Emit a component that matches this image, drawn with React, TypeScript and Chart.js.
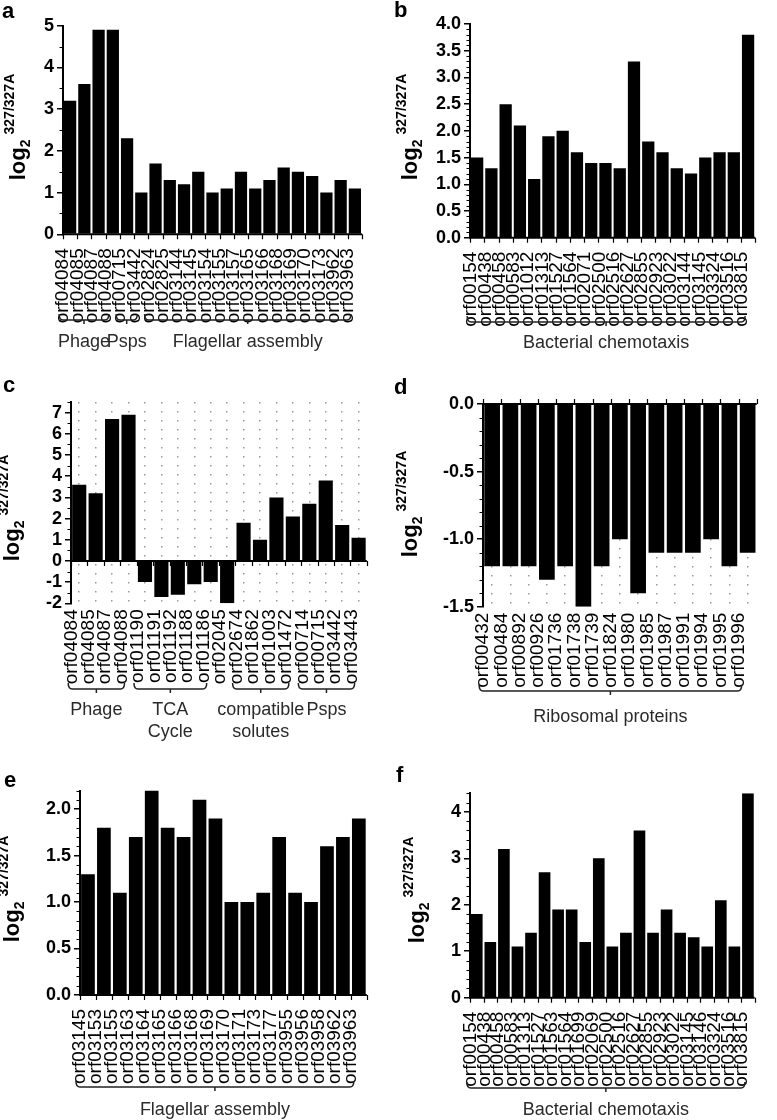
import React, { useEffect, useRef } from "react";
import { Chart, registerables } from "chart.js";
Chart.register(...registerables);

// ---------- data ----------
const aLabels = ["orf04084","orf04085","orf04087","orf04088","orf00715","orf03442","orf02824","orf02825","orf03144","orf03145","orf03154","orf03155","orf03157","orf03165","orf03166","orf03168","orf03169","orf03170","orf03173","orf03962","orf03963"];
const aValues = [3.2,3.6,4.9,4.9,2.3,1.0,1.7,1.3,1.2,1.5,1.0,1.1,1.5,1.1,1.3,1.6,1.5,1.4,1.0,1.3,1.1];
const aTicks = [0,1,2,3,4,5];

const bLabels = ["orf00154","orf00438","orf00458","orf00583","orf01012","orf01313","orf01527","orf01564","orf02071","orf02500","orf02516","orf02627","orf02855","orf02923","orf03022","orf03144","orf03145","orf03324","orf03516","orf03815"];
const bValues = [1.5,1.3,2.5,2.1,1.1,1.9,2.0,1.6,1.4,1.4,1.3,3.3,1.8,1.6,1.3,1.2,1.5,1.6,1.6,3.8];
const bTicks = [0,0.5,1,1.5,2,2.5,3,3.5,4];

const cLabels = ["orf04084","orf04085","orf04087","orf04088","orf01190","orf01191","orf01192","orf01188","orf01186","orf02045","orf02674","orf01862","orf01003","orf01472","orf00714","orf00715","orf03442","orf03443"];
const cValues = [3.6,3.2,6.7,6.9,-1.0,-1.7,-1.6,-1.1,-1.0,-2.0,1.8,1.0,3.0,2.1,2.7,3.8,1.7,1.1];
const cTicks = [-2,-1,0,1,2,3,4,5,6,7];

const dLabels = ["orf00432","orf00484","orf00892","orf00926","orf01736","orf01738","orf01739","orf01824","orf01980","orf01985","orf01987","orf01991","orf01994","orf01995","orf01996"];
const dValues = [-1.2,-1.2,-1.2,-1.3,-1.2,-1.5,-1.2,-1.0,-1.4,-1.1,-1.1,-1.1,-1.0,-1.2,-1.1];
const dTicks = [-1.5,-1,-0.5,0];

const eLabels = ["orf03145","orf03153","orf03155","orf03163","orf03164","orf03165","orf03166","orf03168","orf03169","orf03170","orf03171","orf03173","orf03177","orf03955","orf03956","orf03958","orf03962","orf03963"];
const eValues = [1.3,1.8,1.1,1.7,2.2,1.8,1.7,2.1,1.9,1.0,1.0,1.1,1.7,1.1,1.0,1.6,1.7,1.9];
const eTicks = [0,0.5,1,1.5,2];

const fLabels = ["orf00154","orf00438","orf00458","orf00583","orf01313","orf01527","orf01563","orf01564","orf01699","orf02069","orf02500","orf02516","orf02627","orf02855","orf02923","orf03022","orf03145","orf03146","orf03324","orf03516","orf03815"];
const fValues = [1.8,1.2,3.2,1.1,1.4,2.7,1.9,1.9,1.2,3.0,1.1,1.4,3.6,1.4,1.9,1.4,1.3,1.1,2.1,1.1,4.4];
const fTicks = [0,1,2,3,4];

const aGroups = [
  { text: ["Phage"], from: 0, to: 3 },
  { text: ["Psps"], from: 4, to: 5 },
  { text: ["Flagellar assembly"], from: 6, to: 20 },
];
const bGroups = [{ text: ["Bacterial chemotaxis"], from: 0, to: 19 }];
const cGroups = [
  { text: ["Phage"], from: 0, to: 3 },
  { text: ["TCA", "Cycle"], from: 4, to: 8 },
  { text: ["compatible", "solutes"], from: 10, to: 13 },
  { text: ["Psps"], from: 14, to: 17 },
];
const dGroups = [{ text: ["Ribosomal proteins"], from: 0, to: 14 }];
const eGroups = [{ text: ["Flagellar assembly"], from: 0, to: 17 }];
const fGroups = [{ text: ["Bacterial chemotaxis"], from: 0, to: 20 }];

// ---------- layout ----------
type Spec = any;
const panels: Spec[] = [
  { letter: "a", labels: aLabels, values: aValues, ticks: aTicks, groups: aGroups,
    box: { left: 0, top: 0, width: 388, height: 370 }, plot: { x0: 63, x1: 362, y0: 25.7, y1: 234.3 },
    yMin: 0, yMax: 5, dec: 0, minor: 0.5, labelOffset: -7, dotted: false, zeroDir: 1,
    bracketY: 320, textY: 342, title: { cx: 19, cy: 127 }, letterPos: { x: 2, y: 0 } },
  { letter: "b", labels: bLabels, values: bValues, ticks: bTicks, groups: bGroups,
    box: { left: 388, top: 0, width: 389, height: 370 }, plot: { x0: 470, x1: 772, y0: 24, y1: 237.7 },
    yMin: 0, yMax: 4, dec: 1, minor: 0.1, labelOffset: -6, dotted: false, zeroDir: 1,
    bracketY: 322, textY: 343, title: { cx: 411, cy: 127 }, letterPos: { x: 394, y: -1 } },
  { letter: "c", labels: cLabels, values: cValues, ticks: cTicks, groups: cGroups,
    box: { left: 0, top: 370, width: 388, height: 380 }, plot: { x0: 71, x1: 367, y0: 402.1, y1: 603.3 },
    yMin: -2, yMax: 7.5, dec: 0, minor: 0.5, labelOffset: -7, dotted: true, zeroDir: 1,
    bracketY: 689, textY: 710, title: { cx: 13, cy: 508 }, letterPos: { x: 3, y: 374 } },
  { letter: "d", labels: dLabels, values: dValues, ticks: dTicks, groups: dGroups,
    box: { left: 388, top: 370, width: 389, height: 380 }, plot: { x0: 483, x1: 760, y0: 404, y1: 606.7 },
    yMin: -1.5, yMax: 0, dec: 1, minor: 0.1, labelOffset: -9, dotted: true, zeroDir: -1,
    bracketY: 691, textY: 717, title: { cx: 411, cy: 504 }, letterPos: { x: 394, y: 376 } },
  { letter: "e", labels: eLabels, values: eValues, ticks: eTicks, groups: eGroups,
    box: { left: 0, top: 750, width: 388, height: 370 }, plot: { x0: 80, x1: 375, y0: 790.5, y1: 995 },
    yMin: 0, yMax: 2.2, dec: 1, minor: 0.1, labelOffset: -8, dotted: false, zeroDir: 1,
    bracketY: 1087, textY: 1110, title: { cx: 13, cy: 889 }, letterPos: { x: 4, y: 769 } },
  { letter: "f", labels: fLabels, values: fValues, ticks: fTicks, groups: fGroups,
    box: { left: 388, top: 750, width: 389, height: 370 }, plot: { x0: 470, x1: 765, y0: 793.3, y1: 997.7 },
    yMin: 0, yMax: 4.4, dec: 0, minor: 0.2, labelOffset: -6, dotted: false, zeroDir: 1,
    bracketY: 1088, textY: 1110, title: { cx: 418, cy: 890 }, letterPos: { x: 396, y: 764 } },
];

const SANS = '"Liberation Sans", Arial, sans-serif';

function decorPlugin(s: Spec) {
  return {
    id: "decor" + s.letter,
    afterDatasetsDraw(chart: any) {
      const { ctx, chartArea, scales } = chart;
      const x = scales.x, y = scales.y;
      const n = s.labels.length;
      const p0 = x.getPixelForValue(0);
      const step = x.getPixelForValue(1) - p0;
      const yz = y.getPixelForValue(0);
      ctx.save();
      // zero line with category ticks
      ctx.strokeStyle = "#000";
      ctx.lineWidth = 2;
      ctx.beginPath();
      ctx.moveTo(chartArea.left - 1, yz);
      ctx.lineTo(chartArea.right, yz);
      ctx.stroke();
      ctx.lineWidth = 1.2;
      ctx.beginPath();
      for (let i = 0; i <= n; i++) {
        const px = Math.round(p0 - step / 2 + i * step) + 0.5;
        ctx.moveTo(px, yz);
        ctx.lineTo(px, yz + s.zeroDir * 5);
      }
      ctx.stroke();
      // minor ticks on y axis
      ctx.lineWidth = 1;
      ctx.beginPath();
      const cnt = Math.round((s.yMax - s.yMin) / s.minor);
      for (let k = 0; k <= cnt; k++) {
        const v = s.yMin + k * s.minor;
        if (s.ticks.some((t: number) => Math.abs(t - v) < 1e-6)) continue;
        const py = Math.round(y.getPixelForValue(v)) + 0.5;
        ctx.moveTo(chartArea.left, py);
        ctx.lineTo(chartArea.left - 3.5, py);
      }
      ctx.stroke();
      // brackets + group labels
      const by = s.bracketY - s.box.top;
      const ty = s.textY - s.box.top;
      ctx.strokeStyle = "#222";
      ctx.lineWidth = 1.5;
      ctx.fillStyle = "#2a2a2a";
      ctx.font = "18px " + SANS;
      ctx.textAlign = "center";
      ctx.textBaseline = "middle";
      for (const g of s.groups) {
        const xl = x.getPixelForValue(g.from) + s.labelOffset - 4;
        const xr = x.getPixelForValue(g.to) + s.labelOffset + 3;
        const mid = (xl + xr) / 2;
        ctx.beginPath();
        ctx.moveTo(xl, by - 6);
        ctx.quadraticCurveTo(xl, by, xl + 4, by);
        ctx.lineTo(xr - 4, by);
        ctx.quadraticCurveTo(xr, by, xr, by - 6);
        ctx.moveTo(mid, by);
        ctx.lineTo(mid, by + 4);
        ctx.stroke();
        g.text.forEach((t: string, li: number) => ctx.fillText(t, mid, ty + li * 22));
      }
      ctx.restore();
    },
  };
}

function makeConfig(s: Spec): any {
  const W = s.box.width, H = s.box.height;
  return {
    type: "bar",
    data: {
      labels: s.labels,
      datasets: [{ data: s.values, backgroundColor: "#000", borderWidth: 0, barPercentage: 0.86, categoryPercentage: 1 }],
    },
    options: {
      animation: false,
      responsive: false,
      devicePixelRatio: 1,
      layout: {
        autoPadding: false,
        padding: { left: 0, top: s.plot.y0 - s.box.top, right: s.box.left + W - s.plot.x1, bottom: 0 },
      },
      plugins: { legend: { display: false }, tooltip: { enabled: false }, title: { display: false } },
      scales: {
        x: {
          afterFit: (sc: any) => { sc.height = s.box.top + H - s.plot.y1; },
          ticks: {
            autoSkip: false, maxRotation: 90, minRotation: 90, padding: 6,
            labelOffset: s.labelOffset, color: "#000",
            font: { family: SANS, size: 19 },
          },
          grid: s.dotted
            ? { display: true, offset: false, drawOnChartArea: true, drawTicks: false, color: "#9a9a9a", lineWidth: 1.5, borderDash: [1.5, 7.5] }
            : { display: false },
          border: s.dotted ? { display: false, dash: [1.5, 7.5] } : { display: false },
        },
        y: {
          min: s.yMin, max: s.yMax,
          afterBuildTicks: (sc: any) => { sc.ticks = s.ticks.map((v: number) => ({ value: v })); },
          afterFit: (sc: any) => { sc.width = s.plot.x0 - s.box.left; },
          ticks: {
            autoSkip: false,
            color: "#000", padding: 3,
            font: { family: SANS, size: 18, weight: "bold" },
            callback: (v: any) => Number(v).toFixed(s.dec),
          },
          grid: { drawOnChartArea: false, drawTicks: true, tickLength: 6, color: "#000", lineWidth: 1.5 },
          border: { display: true, color: "#000", width: 2 },
        },
      },
    },
    plugins: [decorPlugin(s)],
  };
}

function Panel({ s }: { s: Spec }) {
  const ref = useRef<HTMLCanvasElement>(null);
  useEffect(() => {
    if (!ref.current) return;
    const chart = new Chart(ref.current, makeConfig(s));
    return () => chart.destroy();
  }, []);
  return (
    <>
      <canvas
        ref={ref}
        width={s.box.width}
        height={s.box.height}
        style={{ position: "absolute", left: s.box.left, top: s.box.top, width: s.box.width, height: s.box.height }}
      />
      <div style={{ position: "absolute", left: s.letterPos.x, top: s.letterPos.y, font: "bold 22px " + SANS, lineHeight: "22px", color: "#000" }}>
        {s.letter}
      </div>
      <div
        style={{
          position: "absolute", left: s.title.cx, top: s.title.cy,
          transform: "translate(-50%, -50%) rotate(-90deg)",
          whiteSpace: "nowrap", fontFamily: SANS, fontWeight: "bold", lineHeight: "24px", color: "#000",
        }}
      >
        <span style={{ fontSize: 22 }}>log</span>
        <span style={{ fontSize: 14, position: "relative", top: 5 }}>2</span>
        <span style={{ fontSize: 14, position: "relative", top: -11, marginLeft: 5 }}>327/327A</span>
      </div>
    </>
  );
}

export default function App() {
  return (
    <div style={{ position: "absolute", left: 0, top: 0, width: 777, height: 1120, background: "#fff", overflow: "hidden" }}>
      {panels.map((s) => <Panel key={s.letter} s={s} />)}
    </div>
  );
}
